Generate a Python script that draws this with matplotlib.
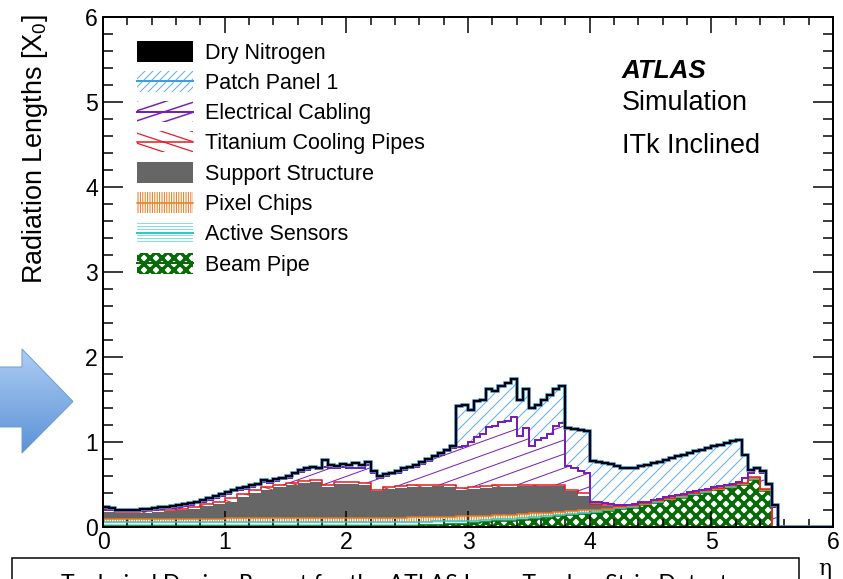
import numpy as np
import matplotlib.pyplot as plt
from matplotlib.patches import Rectangle, Polygon
from matplotlib.collections import LineCollection
from matplotlib.colors import LinearSegmentedColormap
from matplotlib.ticker import MultipleLocator

plt.rcParams['font.family'] = ['Liberation Sans', 'DejaVu Sans']
plt.rcParams['mathtext.fontset'] = 'custom'
plt.rcParams['mathtext.rm'] = 'Liberation Sans'
plt.rcParams['mathtext.it'] = 'Liberation Sans:italic'

# ---- data: upper edge of every stacked layer ----
eta_fine = np.linspace(0, 6, 121)    # 0.05 wide bins
eta_coarse = np.linspace(0, 6, 61)   # 0.1 wide bins

# coarse (0.1) layers
beam_pipe_top = [
    0.01, 0.01, 0.01, 0.01, 0.01, 0.01, 0.01, 0.01, 0.01, 0.01,
    0.01, 0.01, 0.01, 0.01, 0.01, 0.01, 0.01, 0.01, 0.01, 0.01,
    0.01, 0.01, 0.01, 0.01, 0.01, 0.015, 0.02, 0.025, 0.03, 0.04,
    0.045, 0.055, 0.065, 0.075, 0.085, 0.10, 0.11, 0.125, 0.14, 0.155,
    0.17, 0.19, 0.21, 0.225, 0.255, 0.285, 0.315, 0.345, 0.375, 0.405,
    0.43, 0.46, 0.49, 0.555, 0.42, 0, 0, 0, 0, 0]
sensors_top = [
    0.055, 0.055, 0.055, 0.055, 0.055, 0.055, 0.055, 0.055, 0.055, 0.055,
    0.055, 0.055, 0.055, 0.055, 0.055, 0.055, 0.055, 0.055, 0.055, 0.055,
    0.055, 0.055, 0.055, 0.055, 0.055, 0.06, 0.06, 0.065, 0.065, 0.075,
    0.075, 0.085, 0.095, 0.10, 0.11, 0.12, 0.13, 0.145, 0.155, 0.17,
    0.182, 0.202, 0.222, 0.237, 0.267, 0.297, 0.327, 0.357, 0.387, 0.417,
    0.442, 0.472, 0.502, 0.567, 0.432, 0, 0, 0, 0, 0]
chips_top = [
    0.09, 0.09, 0.09, 0.09, 0.09, 0.09, 0.09, 0.09, 0.09, 0.09,
    0.11, 0.11, 0.11, 0.11, 0.11, 0.11, 0.11, 0.11, 0.11, 0.11,
    0.11, 0.11, 0.11, 0.11, 0.11, 0.12, 0.12, 0.12, 0.12, 0.125,
    0.125, 0.13, 0.14, 0.145, 0.15, 0.16, 0.165, 0.175, 0.185, 0.195,
    0.202, 0.217, 0.232, 0.245, 0.275, 0.305, 0.335, 0.365, 0.395, 0.425,
    0.45, 0.48, 0.51, 0.575, 0.44, 0, 0, 0, 0, 0]
support_top = [
    0.18, 0.165, 0.165, 0.17, 0.18, 0.19, 0.20, 0.215, 0.245, 0.27,
    0.30, 0.35, 0.40, 0.44, 0.465, 0.50, 0.52, 0.53, 0.47, 0.51,
    0.51, 0.50, 0.42, 0.45, 0.46, 0.47, 0.47, 0.48, 0.47, 0.44,
    0.45, 0.46, 0.47, 0.47, 0.48, 0.48, 0.48, 0.48, 0.42, 0.37,
    0.27, 0.25, 0.24, 0.25, 0.28, 0.31, 0.34, 0.37, 0.40, 0.43,
    0.455, 0.485, 0.515, 0.58, 0.445, 0, 0, 0, 0, 0]
ti_pipes_top = [
    0.195, 0.18, 0.18, 0.185, 0.195, 0.205, 0.215, 0.235, 0.27, 0.30,
    0.34, 0.39, 0.43, 0.47, 0.49, 0.52, 0.54, 0.55, 0.49, 0.53,
    0.53, 0.52, 0.44, 0.47, 0.48, 0.49, 0.49, 0.50, 0.49, 0.46,
    0.47, 0.48, 0.49, 0.49, 0.50, 0.50, 0.50, 0.50, 0.44, 0.40,
    0.275, 0.255, 0.245, 0.255, 0.285, 0.315, 0.345, 0.375, 0.405, 0.435,
    0.46, 0.49, 0.52, 0.585, 0.45, 0, 0, 0, 0, 0]

# fine (0.05) layers
cabling_top = [
    0.21, 0.20, 0.19, 0.185, 0.185, 0.185, 0.19, 0.195, 0.20, 0.21,
    0.22, 0.225, 0.235, 0.245, 0.26, 0.28, 0.30, 0.32, 0.34, 0.37,
    0.39, 0.42, 0.44, 0.45, 0.47, 0.49, 0.53, 0.52, 0.54, 0.56,
    0.58, 0.62, 0.65, 0.67, 0.69, 0.68, 0.71, 0.70, 0.70, 0.71,
    0.69, 0.70, 0.70, 0.73, 0.64, 0.58, 0.60, 0.62, 0.64, 0.67,
    0.69, 0.71, 0.74, 0.78, 0.82, 0.85, 0.89, 0.93, 0.94, 0.95,
    1.00, 1.06, 1.10, 1.18, 1.19, 1.23, 1.25, 1.30, 1.07, 1.16,
    0.95, 1.02, 1.05, 1.10, 1.19, 1.22, 0.72, 0.69, 0.66, 0.64,
    0.30, 0.29, 0.28, 0.27, 0.26, 0.255, 0.26, 0.265, 0.29, 0.30,
    0.32, 0.33, 0.35, 0.36, 0.38, 0.39, 0.41, 0.42, 0.44, 0.45,
    0.47, 0.48, 0.50, 0.51, 0.53, 0.58, 0.63, 0.68, 0.64, 0.49,
    0.24, 0, 0, 0, 0, 0, 0, 0, 0, 0]
total = [
    0.23, 0.22, 0.205, 0.20, 0.20, 0.20, 0.21, 0.215, 0.22, 0.23,
    0.24, 0.245, 0.255, 0.265, 0.28, 0.30, 0.32, 0.34, 0.36, 0.39,
    0.41, 0.44, 0.46, 0.47, 0.49, 0.51, 0.55, 0.54, 0.56, 0.58,
    0.60, 0.64, 0.67, 0.69, 0.71, 0.70, 0.79, 0.73, 0.72, 0.74,
    0.73, 0.75, 0.73, 0.76, 0.66, 0.60, 0.62, 0.64, 0.66, 0.69,
    0.71, 0.73, 0.76, 0.80, 0.84, 0.87, 0.91, 0.95, 1.42, 1.43,
    1.38, 1.48, 1.50, 1.62, 1.60, 1.66, 1.70, 1.74, 1.50, 1.62,
    1.40, 1.44, 1.49, 1.55, 1.62, 1.66, 1.16, 1.15, 1.14, 1.13,
    0.78, 0.76, 0.75, 0.74, 0.72, 0.70, 0.69, 0.70, 0.72, 0.73,
    0.75, 0.77, 0.79, 0.81, 0.83, 0.85, 0.87, 0.89, 0.91, 0.93,
    0.95, 0.97, 0.99, 1.01, 1.02, 0.85, 0.67, 0.70, 0.66, 0.51,
    0.26, 0, 0, 0, 0, 0, 0, 0, 0, 0]

labels = ['Dry Nitrogen', 'Patch Panel 1', 'Electrical Cabling',
          'Titanium Cooling Pipes', 'Support Structure', 'Pixel Chips',
          'Active Sensors', 'Beam Pipe']

C_BLUE, C_BLUE_H = '#3d9be9', '#5cadf5'
C_PURPLE = '#7b1fb4'
C_RED = '#e3171c'
C_GRAY = '#666666'
C_ORANGE = '#e07c1f'
C_CYAN, C_CYAN_H = '#35c6c6', '#86e0e0'
C_GREEN = '#0a6a0a'


def fine(a):
    # coarse bins onto the 0.05 grid (each bin just split in two)
    return np.repeat(np.asarray(a, dtype=float), 2)


W, H = 843, 579
fig = plt.figure(figsize=(W / 72, H / 72), dpi=72)
ax = fig.add_axes([103 / W, 1 - 527 / H, 730 / W, 510 / H])

AXW, AXH = 730.0, 510.0


def slant_lines(clip, slope_px, gap_px, color, lw=1.0, z=2):
    # shallow angle hatch, which the built in hatches can't do
    k = slope_px * AXW / AXH
    gap = gap_px / AXH
    segs = [[(-0.1, c - 0.1 * k), (1.1, c + 1.1 * k)]
            for c in np.arange(-1.5, 2.0, gap)]
    lc = LineCollection(segs, colors=color, linewidths=lw,
                        transform=ax.transAxes, zorder=z)
    ax.add_collection(lc, autolim=False)
    lc.set_clip_path(clip.get_path(), clip.get_transform())


def thick_hatch(artist, lw):
    if hasattr(artist, 'set_hatch_linewidth'):
        artist.set_hatch_linewidth(lw)


bp = fine(beam_pipe_top)
se = fine(sensors_top)
ch = fine(chips_top)
su = fine(support_top)
ti = fine(ti_pipes_top)
cab = np.maximum(np.asarray(cabling_top), ti)
tot = np.maximum(np.asarray(total), cab)

# fills, bottom to top
with plt.rc_context({'hatch.linewidth': 3.5}):
    p = ax.stairs(bp, eta_fine, baseline=0, fill=True, facecolor='white',
                  edgecolor=C_GREEN, hatch='xx', lw=0, zorder=1)
thick_hatch(p, 3.5)
ax.stairs(se, eta_fine, baseline=bp, fill=True, facecolor='white',
          edgecolor=C_CYAN_H, hatch='-----', lw=0, zorder=1)
ax.stairs(ch, eta_fine, baseline=se, fill=True, facecolor='white',
          edgecolor=C_ORANGE, hatch='|||||', lw=0, zorder=1)
ax.stairs(su, eta_fine, baseline=ch, fill=True, facecolor=C_GRAY,
          edgecolor=C_GRAY, lw=0, zorder=1)
p = ax.stairs(ti, eta_fine, baseline=su, fill=True, facecolor='white',
              lw=0, zorder=1)
slant_lines(p, -0.33, 13, C_RED)
p = ax.stairs(cab, eta_fine, baseline=ti, fill=True, facecolor='white',
              lw=0, zorder=1)
slant_lines(p, 0.36, 14, C_PURPLE)
ax.stairs(tot, eta_fine, baseline=cab, fill=True, facecolor='white',
          edgecolor=C_BLUE_H, hatch='//', lw=0, zorder=1)

# outlines
ax.stairs(bp, eta_fine, baseline=None, color=C_GREEN, lw=1.5, zorder=3)
ax.stairs(se, eta_fine, baseline=None, color=C_CYAN, lw=1.5, zorder=3)
ax.stairs(ch, eta_fine, baseline=None, color=C_ORANGE, lw=1.5, zorder=3)
ax.stairs(ti, eta_fine, baseline=None, color=C_RED, lw=1.5, zorder=3)
ax.stairs(cab, eta_fine, baseline=None, color=C_PURPLE, lw=2, zorder=3)
ax.stairs(tot, eta_fine, baseline=None, color=C_BLUE, lw=3.5, zorder=3)
ax.stairs(tot, eta_fine, baseline=None, color='black', lw=2.2, zorder=4)

ax.set_xlim(0, 6)
ax.set_ylim(0, 6)
ax.xaxis.set_major_locator(MultipleLocator(1))
ax.xaxis.set_minor_locator(MultipleLocator(0.2))
ax.yaxis.set_major_locator(MultipleLocator(1))
ax.yaxis.set_minor_locator(MultipleLocator(0.2))
ax.tick_params(which='both', direction='in', top=True, right=True,
               width=1.5, labelsize=23, colors='black')
ax.tick_params(axis='x', which='major', length=16, pad=4)
ax.tick_params(axis='x', which='minor', length=8)
ax.tick_params(axis='y', which='major', length=20, pad=5)
ax.tick_params(axis='y', which='minor', length=10)
for s in ax.spines.values():
    s.set_linewidth(2)
    s.set_zorder(6)

# legend, drawn by hand like the ROOT one
x0, kw, kh = 34 / AXW, 56 / AXW, 21 / AXH
for i, lab in enumerate(labels):
    yc = (476 - 30.3 * i) / AXH
    y0 = yc - kh / 2
    box = dict(transform=ax.transAxes, zorder=5)
    cl = None
    if lab == 'Dry Nitrogen':
        ax.add_patch(Rectangle((x0, y0), kw, kh, facecolor='black', lw=0, **box))
    elif lab == 'Support Structure':
        ax.add_patch(Rectangle((x0, y0), kw, kh, facecolor=C_GRAY, lw=0, **box))
    elif lab == 'Patch Panel 1':
        ax.add_patch(Rectangle((x0, y0), kw, kh, facecolor='white',
                               edgecolor=C_BLUE_H, hatch='///', lw=0, **box))
        cl = (C_BLUE, 2)
    elif lab == 'Electrical Cabling':
        r = Rectangle((x0, y0), kw, kh, facecolor='white', lw=0, **box)
        ax.add_patch(r)
        slant_lines(r, 0.33, 10, C_PURPLE, lw=1.5, z=5)
        cl = (C_PURPLE, 2)
    elif lab == 'Titanium Cooling Pipes':
        r = Rectangle((x0, y0), kw, kh, facecolor='white', lw=0, **box)
        ax.add_patch(r)
        slant_lines(r, -0.33, 10, C_RED, lw=1.2, z=5)
        cl = (C_RED, 1.5)
    elif lab == 'Pixel Chips':
        ax.add_patch(Rectangle((x0, y0), kw, kh, facecolor='white',
                               edgecolor=C_ORANGE, hatch='|||||', lw=0, **box))
        cl = (C_ORANGE, 1.5)
    elif lab == 'Active Sensors':
        ax.add_patch(Rectangle((x0, y0), kw, kh, facecolor='white',
                               edgecolor=C_CYAN_H, hatch='----', lw=0, **box))
        cl = (C_CYAN, 2)
    elif lab == 'Beam Pipe':
        with plt.rc_context({'hatch.linewidth': 3.5}):
            r = Rectangle((x0, y0), kw, kh, facecolor='white',
                          edgecolor=C_GREEN, hatch='xx', lw=0, **box)
        thick_hatch(r, 3.5)
        ax.add_patch(r)
        cl = (C_GREEN, 2)
    if cl:
        ax.plot([x0, x0 + kw], [yc, yc], color=cl[0], lw=cl[1],
                transform=ax.transAxes, zorder=6)
    ax.text(102 / AXW, yc - 7.5 / AXH, lab, transform=ax.transAxes,
            fontsize=21.5, va='baseline', ha='left', zorder=6)


def fx(x):
    return x / W


def fy(y):
    return 1 - y / H


fig.text(fx(622), fy(78), 'ATLAS', fontsize=26, fontweight='bold',
         style='italic', va='baseline')
fig.text(fx(622), fy(110), 'Simulation', fontsize=27, va='baseline')
fig.text(fx(622), fy(153), 'ITk Inclined', fontsize=27, va='baseline')

fig.text(fx(20), fy(14), 'Radiation Lengths [X$_{0}$]', fontsize=27,
         rotation=90, ha='left', va='top')
fig.text(fx(825), fy(558), '\u03b7', fontsize=22, family='DejaVu Serif',
         ha='center', va='top')

# box with the caption underneath (cut by the bottom edge, as in the slide)
fig.add_artist(Rectangle((fx(12), fy(620)), (799 - 12) / W, 62 / H,
                         transform=fig.transFigure, fill=False, lw=1.5,
                         edgecolor='black'))
fig.text(fx(405.5), fy(574),
         'Technical Design Report for the ATLAS Inner Tracker Strip Detector',
         fontsize=23, family='Lato', ha='center', va='top')

# blue arrow on the left, light at the top, darker below
aa = fig.add_axes([0, fy(456), 76 / W, (456 - 346) / H])
aa.set_xlim(0, 76)
aa.set_ylim(456, 346)
aa.axis('off')
grad = np.linspace(0, 1, 100).reshape(-1, 1)
cm = LinearSegmentedColormap.from_list('arr', ['#b0cff3', '#5990d6'])
im = aa.imshow(grad, extent=(0, 76, 456, 346), cmap=cm, aspect='auto')
arrow = Polygon([(-2, 367), (22, 367), (22, 349), (73, 401.5), (22, 453),
                 (22, 427), (-2, 427)], closed=True, facecolor='none',
                edgecolor='#6c9ed6', lw=1)
aa.add_patch(arrow)
im.set_clip_path(arrow)

fig.savefig('out.png', dpi=72)
